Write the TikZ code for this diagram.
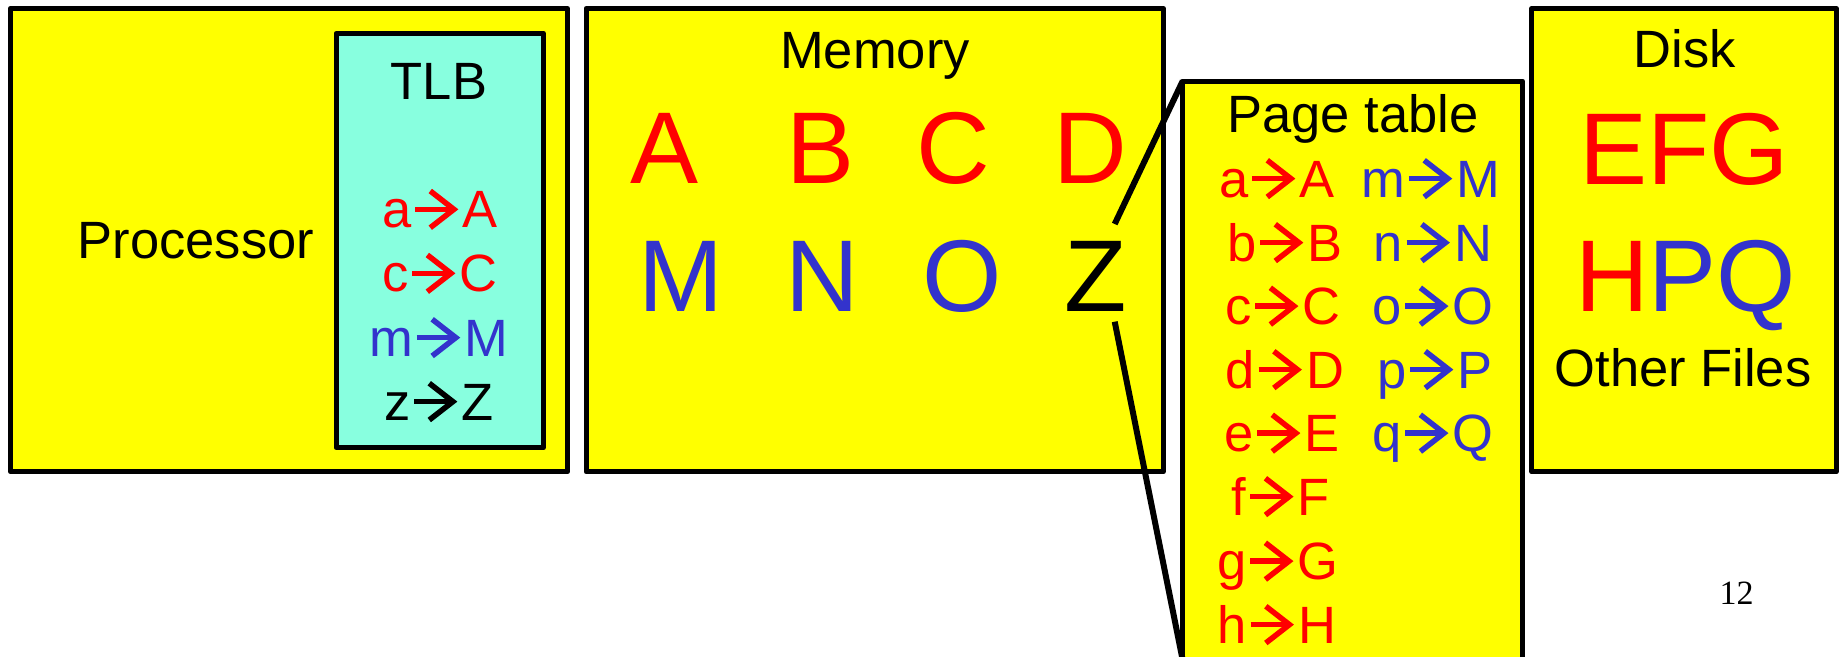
\documentclass[tikz,border=0pt]{standalone}
\usepackage{fontspec}
\setmainfont{Liberation Sans}
\newfontfamily\numfont{Liberation Serif}

\definecolor{panelyellow}{HTML}{FFFF00}
\definecolor{tlbcyan}{HTML}{88FFDF}
\definecolor{pgred}{HTML}{FF0000}
\definecolor{pgblue}{HTML}{3333CC}

% open-headed mapping arrow, one em-based glyph in the given colour
\newcommand{\mapto}[1]{\tikz[baseline=0pt]{%
  \useasboundingbox (0em,0em) rectangle (0.98em,0.72em);
  \draw[#1, line width=0.105em, line cap=butt] (0.07em,0.35em) -- (0.79em,0.35em);
  \draw[#1, line width=0.105em, line cap=butt, line join=miter]
    (0.36em,0.70em) -- (0.81em,0.35em) -- (0.36em,0.0em);}}
\newcommand{\mapent}[3]{#2\mapto{#1}#3}

\tikzset{
  panel/.style={draw=black, line width=5pt, fill=panelyellow, line join=round,
    outer sep=0pt, inner sep=0pt, anchor=north west},
  tlbpanel/.style={panel, fill=tlbcyan},
  lbl/.style={font=\fontsize{52.5}{60}\selectfont, anchor=base, inner sep=0pt},
  bigl/.style={font=\fontsize{102}{110}\selectfont, anchor=base, inner sep=0pt},
  zoomline/.style={draw=black, line width=6pt}
}

\begin{document}
\begin{tikzpicture}[x=1pt, y=-1pt]
\useasboundingbox (0,0) rectangle (1839,656);
\clip (0,0) rectangle (1839,656);
\fill[white] (0,0) rectangle (1839,656);

% panels
\node[panel, minimum width=557.2pt, minimum height=463.3pt] (proc) at (10.3,8.5) {};
\node[tlbpanel, minimum width=207.4pt, minimum height=414.4pt] (tlb) at (336,33.3) {};
\node[panel, minimum width=577.4pt, minimum height=463.3pt] (mem) at (586,8.5) {};
\node[panel, minimum width=340pt, minimum height=579pt] (pt) at (1182.7,81) {};
\node[panel, minimum width=304.5pt, minimum height=463.3pt] (disk) at (1531.7,8.5) {};

% processor and TLB
\node[lbl] (proclbl) at (196,258.3) {Processor};
\node[lbl] (tlblbl) at (439,99.3) {TLB};
\node[lbl, text=pgred] (tlba) at (440,227.7) {\mapent{pgred}{a}{A}};
\node[lbl, text=pgred] (tlbc) at (440,291.7) {\mapent{pgred}{c}{C}};
\node[lbl, text=pgblue] (tlbm) at (439,356) {\mapent{pgblue}{m}{M}};
\node[lbl, text=black] (tlbz) at (439,420) {\mapent{black}{z}{Z}};

% memory
\node[lbl] (memlbl) at (875,68.3) {Memory};
\node[bigl, text=pgred] (mA) at (665,183.3) {A};
\node[bigl, text=pgred] (mB) at (821,183.3) {B};
\node[bigl, text=pgred] (mC) at (953,183.3) {C};
\node[bigl, text=pgred] (mD) at (1090,183.3) {D};
\node[bigl, text=pgblue] (mM) at (681,311.7) {M};
\node[bigl, text=pgblue] (mN) at (822.5,311.7) {N};
\node[bigl, text=pgblue] (mO) at (962,311.7) {O};
\node[bigl, text=black] (mZ) at (1095.5,311.7) {Z};

% page table
\node[lbl] (ptlbl) at (1353,132) {Page table};
\node[lbl, text=pgred] (pa) at (1277,197) {\mapent{pgred}{a}{A}};
\node[lbl, text=pgred] (pb) at (1285,261) {\mapent{pgred}{b}{B}};
\node[lbl, text=pgred] (pc) at (1283,324.5) {\mapent{pgred}{c}{C}};
\node[lbl, text=pgred] (pd) at (1285,388) {\mapent{pgred}{d}{D}};
\node[lbl, text=pgred] (pe) at (1282,451.5) {\mapent{pgred}{e}{E}};
\node[lbl, text=pgred] (pf) at (1281,515) {\mapent{pgred}{f}{F}};
\node[lbl, text=pgred] (pg) at (1278,579.5) {\mapent{pgred}{g}{G}};
\node[lbl, text=pgred] (ph) at (1277,643) {\mapent{pgred}{h}{H}};
\node[lbl, text=pgblue] (pm) at (1431,197) {\mapent{pgblue}{m}{M}};
\node[lbl, text=pgblue] (pn) at (1433,261) {\mapent{pgblue}{n}{N}};
\node[lbl, text=pgblue] (po) at (1433,324.5) {\mapent{pgblue}{o}{O}};
\node[lbl, text=pgblue] (pp) at (1435,388) {\mapent{pgblue}{p}{P}};
\node[lbl, text=pgblue] (pq) at (1433,451.5) {\mapent{pgblue}{q}{Q}};

% disk
\node[lbl] (disklbl) at (1685,67.7) {Disk};
\node[bigl, text=pgred] (efg) at (1684,184) {EFG};
\node[bigl] (hpq) at (1685.5,311.4) {\textcolor{pgred}{H}\textcolor{pgblue}{PQ}};
\node[lbl] (other) at (1683,386.7) {Other Files};

% slide number
\node[font=\numfont\fontsize{34}{40}\selectfont, anchor=base, inner sep=0pt] (num) at (1736.7,604) {12};

% zoom lines from the page Z to the page table
\coordinate (zup) at (1114.7,224);
\coordinate (zlo) at (1114.7,321.7);
\draw[zoomline] (pt.north west) -- (zup);
\draw[zoomline] (zlo) -- (pt.south west);
\end{tikzpicture}
\end{document}
